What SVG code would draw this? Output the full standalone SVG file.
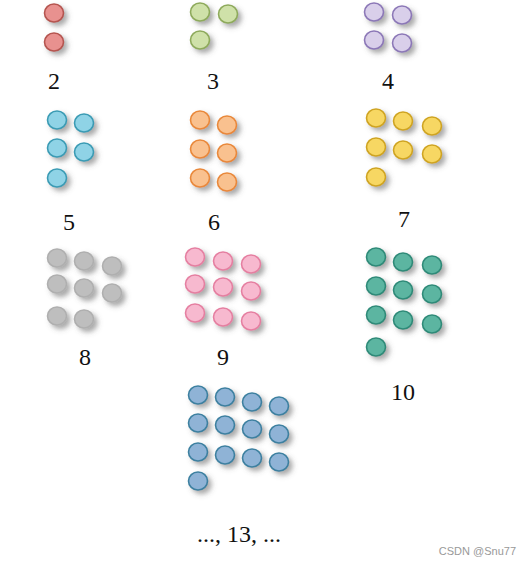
<svg xmlns="http://www.w3.org/2000/svg" width="531" height="566" viewBox="0 0 531 566">
<defs>
<filter id="sh" x="-50%" y="-50%" width="230%" height="230%">
<feDropShadow dx="3.5" dy="3.5" stdDeviation="2.5" flood-color="#555" flood-opacity="0.5"/>
</filter>
</defs>
<style>
ellipse{filter:url(#sh);stroke-width:1.6}
.lbl{font-family:"Liberation Serif","Times New Roman",serif;font-size:24px;fill:#111;text-anchor:middle}
.red ellipse{fill:#E8918F;stroke:#B5544F}
.green ellipse{fill:#CFE1A9;stroke:#8EAA5B}
.purple ellipse{fill:#D9CFEA;stroke:#8C78B7}
.cyan ellipse{fill:#8FD3E6;stroke:#3A9BB4}
.orange ellipse{fill:#F9C18F;stroke:#E9883A}
.yellow ellipse{fill:#F7D763;stroke:#CFA421}
.gray ellipse{fill:#BEBEBE;stroke:#AFAFAF}
.pink ellipse{fill:#F7B9CF;stroke:#E57FA1}
.teal ellipse{fill:#5BB5A1;stroke:#2E8A78}
.steel ellipse{fill:#8FB3D6;stroke:#3D80A0}
</style>
<rect width="531" height="566" fill="#fff"/>
<g id="n2" class="red">
<ellipse cx="54" cy="13" rx="9.5" ry="9"/>
<ellipse cx="54" cy="42" rx="9.5" ry="9"/>
<text class="lbl" x="54" y="89">2</text>
</g>
<g id="n3" class="green">
<ellipse cx="200" cy="12" rx="9.5" ry="9"/>
<ellipse cx="228" cy="14" rx="9.5" ry="9"/>
<ellipse cx="200" cy="40" rx="9.5" ry="9"/>
<text class="lbl" x="213" y="89">3</text>
</g>
<g id="n4" class="purple">
<ellipse cx="374" cy="12" rx="9.5" ry="9"/>
<ellipse cx="402" cy="15" rx="9.5" ry="9"/>
<ellipse cx="374" cy="40" rx="9.5" ry="9"/>
<ellipse cx="402" cy="43" rx="9.5" ry="9"/>
<text class="lbl" x="388" y="89">4</text>
</g>
<g id="n5" class="cyan">
<ellipse cx="57" cy="120" rx="9.5" ry="9"/>
<ellipse cx="84" cy="123" rx="9.5" ry="9"/>
<ellipse cx="57" cy="148" rx="9.5" ry="9"/>
<ellipse cx="84" cy="152" rx="9.5" ry="9"/>
<ellipse cx="57" cy="178" rx="9.5" ry="9"/>
<text class="lbl" x="69" y="230">5</text>
</g>
<g id="n6" class="orange">
<ellipse cx="200" cy="120" rx="9.5" ry="9"/>
<ellipse cx="227" cy="125" rx="9.5" ry="9"/>
<ellipse cx="200" cy="149" rx="9.5" ry="9"/>
<ellipse cx="227" cy="153" rx="9.5" ry="9"/>
<ellipse cx="200" cy="178" rx="9.5" ry="9"/>
<ellipse cx="227" cy="182" rx="9.5" ry="9"/>
<text class="lbl" x="214" y="230">6</text>
</g>
<g id="n7" class="yellow">
<ellipse cx="376" cy="118" rx="9.5" ry="9"/>
<ellipse cx="403" cy="121" rx="9.5" ry="9"/>
<ellipse cx="432" cy="126" rx="9.5" ry="9"/>
<ellipse cx="376" cy="147" rx="9.5" ry="9"/>
<ellipse cx="403" cy="150" rx="9.5" ry="9"/>
<ellipse cx="432" cy="154" rx="9.5" ry="9"/>
<ellipse cx="376" cy="177" rx="9.5" ry="9"/>
<text class="lbl" x="404" y="227">7</text>
</g>
<g id="n8" class="gray">
<ellipse cx="57" cy="258" rx="9.5" ry="9"/>
<ellipse cx="84" cy="261" rx="9.5" ry="9"/>
<ellipse cx="112" cy="266" rx="9.5" ry="9"/>
<ellipse cx="57" cy="284" rx="9.5" ry="9"/>
<ellipse cx="84" cy="288" rx="9.5" ry="9"/>
<ellipse cx="112" cy="293" rx="9.5" ry="9"/>
<ellipse cx="57" cy="316" rx="9.5" ry="9"/>
<ellipse cx="84" cy="319" rx="9.5" ry="9"/>
<text class="lbl" x="85" y="365">8</text>
</g>
<g id="n9" class="pink">
<ellipse cx="195" cy="257" rx="9.5" ry="9"/>
<ellipse cx="223" cy="261" rx="9.5" ry="9"/>
<ellipse cx="251" cy="264" rx="9.5" ry="9"/>
<ellipse cx="195" cy="284" rx="9.5" ry="9"/>
<ellipse cx="223" cy="287" rx="9.5" ry="9"/>
<ellipse cx="251" cy="291" rx="9.5" ry="9"/>
<ellipse cx="195" cy="313" rx="9.5" ry="9"/>
<ellipse cx="223" cy="317" rx="9.5" ry="9"/>
<ellipse cx="251" cy="321" rx="9.5" ry="9"/>
<text class="lbl" x="223" y="365">9</text>
</g>
<g id="n10" class="teal">
<ellipse cx="376" cy="257" rx="9.5" ry="9"/>
<ellipse cx="403" cy="262" rx="9.5" ry="9"/>
<ellipse cx="432" cy="265" rx="9.5" ry="9"/>
<ellipse cx="376" cy="286" rx="9.5" ry="9"/>
<ellipse cx="403" cy="290" rx="9.5" ry="9"/>
<ellipse cx="432" cy="294" rx="9.5" ry="9"/>
<ellipse cx="376" cy="315" rx="9.5" ry="9"/>
<ellipse cx="403" cy="320" rx="9.5" ry="9"/>
<ellipse cx="432" cy="324" rx="9.5" ry="9"/>
<ellipse cx="376" cy="347" rx="9.5" ry="9"/>
<text class="lbl" x="403" y="400">10</text>
</g>
<g id="n13" class="steel">
<ellipse cx="198" cy="395" rx="9.5" ry="9"/>
<ellipse cx="225" cy="397" rx="9.5" ry="9"/>
<ellipse cx="252" cy="402" rx="9.5" ry="9"/>
<ellipse cx="279" cy="406" rx="9.5" ry="9"/>
<ellipse cx="198" cy="423" rx="9.5" ry="9"/>
<ellipse cx="225" cy="425" rx="9.5" ry="9"/>
<ellipse cx="252" cy="429" rx="9.5" ry="9"/>
<ellipse cx="279" cy="434" rx="9.5" ry="9"/>
<ellipse cx="198" cy="452" rx="9.5" ry="9"/>
<ellipse cx="225" cy="455" rx="9.5" ry="9"/>
<ellipse cx="252" cy="458" rx="9.5" ry="9"/>
<ellipse cx="279" cy="462" rx="9.5" ry="9"/>
<ellipse cx="198" cy="481" rx="9.5" ry="9"/>
<text class="lbl" x="239" y="542">..., 13, ...</text>
</g>
<text x="516" y="555" text-anchor="end" font-family="Liberation Sans,Arial,sans-serif" font-size="11" fill="#999">CSDN @Snu77</text>
</svg>
